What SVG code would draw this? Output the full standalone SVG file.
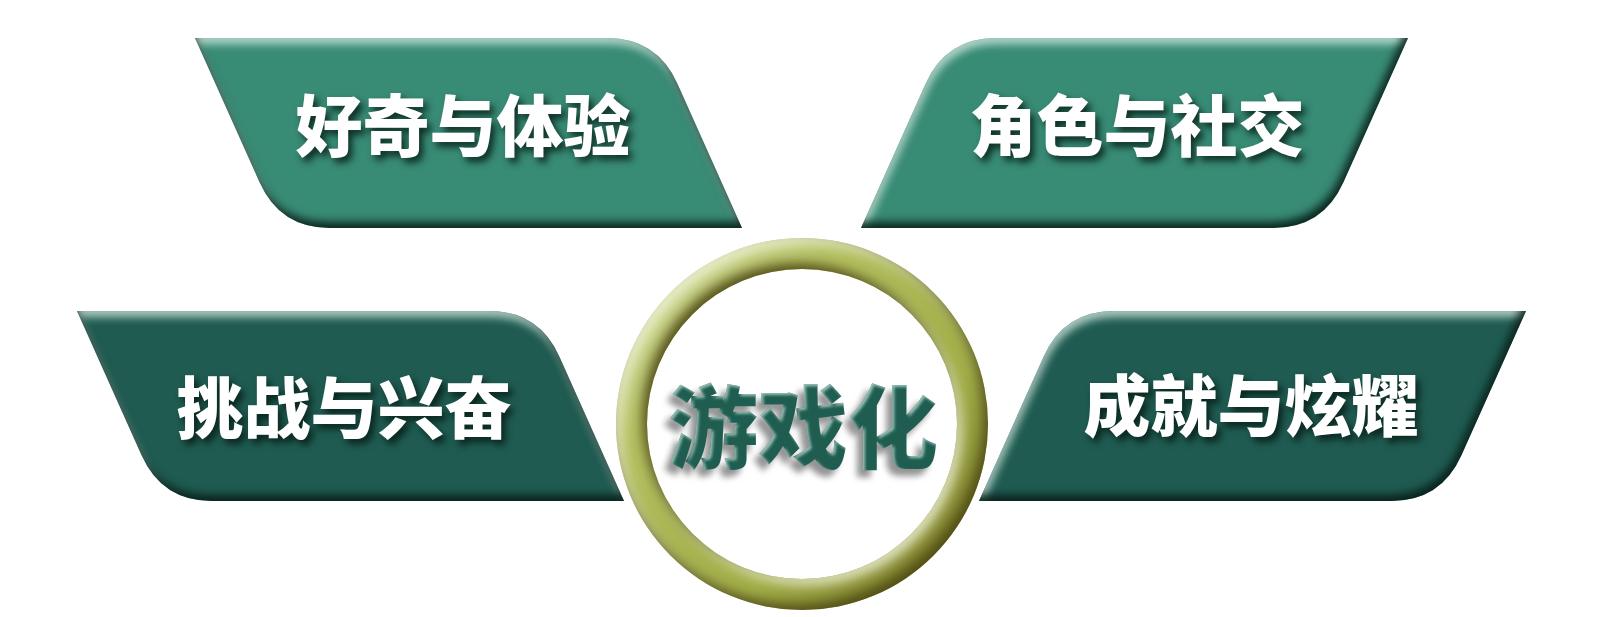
<svg xmlns="http://www.w3.org/2000/svg" width="1612" height="617" viewBox="0 0 1612 617">
  <defs>
    <style>
      .lbl { font-family: "Noto Sans CJK SC", "Noto Sans", sans-serif; font-weight: 900; font-size: 67px; fill: #ffffff; text-anchor: middle; filter: url(#txtShadow); }
      .core { font-family: "Noto Sans CJK SC", "Noto Sans", sans-serif; font-weight: 900; font-size: 90px; fill: #1f5d51; text-anchor: middle; filter: url(#coreShadow); }
      .light { fill: #388b75; filter: url(#bevel); }
      .dark { fill: #1f5b51; filter: url(#bevel); }
    </style>
    <filter id="bevel" x="-5%" y="-10%" width="110%" height="125%" color-interpolation-filters="sRGB">
      <feGaussianBlur in="SourceAlpha" stdDeviation="4" result="blur"/>
      <feOffset in="blur" dx="2" dy="6" result="offDown"/>
      <feComposite in="SourceAlpha" in2="offDown" operator="out" result="topEdge"/>
      <feFlood flood-color="#d6ece4" flood-opacity="0.8"/>
      <feComposite in2="topEdge" operator="in" result="hl"/>
      <feOffset in="blur" dx="-3" dy="-6" result="offUp"/>
      <feComposite in="SourceAlpha" in2="offUp" operator="out" result="botEdge"/>
      <feFlood flood-color="#051c16" flood-opacity="0.9"/>
      <feComposite in2="botEdge" operator="in" result="sh"/>
      <feMerge><feMergeNode in="SourceGraphic"/><feMergeNode in="hl"/><feMergeNode in="sh"/></feMerge>
    </filter>
    <filter id="ringBevel" x="-5%" y="-5%" width="110%" height="110%" color-interpolation-filters="sRGB">
      <feGaussianBlur in="SourceAlpha" stdDeviation="6" result="blur"/>
      <feOffset in="blur" dx="5" dy="6" result="offDown"/>
      <feComposite in="SourceAlpha" in2="offDown" operator="out" result="topEdge"/>
      <feFlood flood-color="#f3f6dc" flood-opacity="0.85"/>
      <feComposite in2="topEdge" operator="in" result="hl"/>
      <feOffset in="blur" dx="-5" dy="-6" result="offUp"/>
      <feComposite in="SourceAlpha" in2="offUp" operator="out" result="botEdge"/>
      <feFlood flood-color="#4a4610" flood-opacity="0.9"/>
      <feComposite in2="botEdge" operator="in" result="sh"/>
      <feMerge><feMergeNode in="SourceGraphic"/><feMergeNode in="hl"/><feMergeNode in="sh"/></feMerge>
    </filter>
    <filter id="txtShadow" x="-10%" y="-20%" width="130%" height="160%" color-interpolation-filters="sRGB">
      <feGaussianBlur in="SourceAlpha" stdDeviation="3.5"/>
      <feOffset dx="4" dy="5" result="o"/>
      <feFlood flood-color="#041812" flood-opacity="0.8"/>
      <feComposite in2="o" operator="in" result="s"/>
      <feMerge><feMergeNode in="s"/><feMergeNode in="SourceGraphic"/></feMerge>
    </filter>
    <filter id="coreShadow" x="-10%" y="-20%" width="130%" height="160%" color-interpolation-filters="sRGB">
      <feGaussianBlur in="SourceAlpha" stdDeviation="3" result="blur"/>
      <feOffset in="blur" dx="-6" dy="7" result="o"/>
      <feFlood flood-color="#6e6e6e" flood-opacity="0.75"/>
      <feComposite in2="o" operator="in" result="s"/>
      <feGaussianBlur in="SourceAlpha" stdDeviation="1.5" result="b2"/>
      <feOffset in="b2" dx="2" dy="2" result="o2"/>
      <feComposite in="SourceAlpha" in2="o2" operator="out" result="edge"/>
      <feFlood flood-color="#b9dcd2" flood-opacity="0.8"/>
      <feComposite in2="edge" operator="in" result="hl"/>
      <feMerge><feMergeNode in="s"/><feMergeNode in="SourceGraphic"/><feMergeNode in="hl"/></feMerge>
    </filter>
    <linearGradient id="ringGrad" x1="0" y1="0" x2="1" y2="1">
      <stop offset="0" stop-color="#dfe6b4"/>
      <stop offset="0.3" stop-color="#b4c062"/>
      <stop offset="0.65" stop-color="#a2ae48"/>
      <stop offset="1" stop-color="#6c6a20"/>
    </linearGradient>
  </defs>
  <rect width="1612" height="617" fill="#ffffff"/>

  <g id="connectors"/>

  <g id="node-curiosity">
    <path class="light" d="M195,38 H607 Q657,38 677.4,83.7 L742,228 H330 Q280,228 259.6,182.3 Z"/>
    <text class="lbl" x="463" y="151">好奇与体验</text>
  </g>

  <g id="node-social">
    <path class="light" d="M1408,38 H996 Q946,38 925.6,83.7 L861,228 H1273 Q1323,228 1343.4,182.3 Z"/>
    <text class="lbl" x="1137" y="151">角色与社交</text>
  </g>

  <g id="node-challenge">
    <path class="dark" d="M77,311 H489 Q539,311 559.4,356.7 L624,501 H212 Q162,501 141.6,455.3 Z"/>
    <text class="lbl" x="344" y="433">挑战与兴奋</text>
  </g>

  <g id="node-achievement">
    <path class="dark" d="M1526,311 H1114 Q1064,311 1043.6,356.7 L979,501 H1391 Q1441,501 1461.4,455.3 Z"/>
    <text class="lbl" x="1251" y="431">成就与炫耀</text>
  </g>

  <g id="node-gamification">
    <path fill="url(#ringGrad)" fill-rule="evenodd" filter="url(#ringBevel)" d="M616,424 a186,186 0 1,0 372,0 a186,186 0 1,0 -372,0 Z M647,424 a155,155 0 1,0 310,0 a155,155 0 1,0 -310,0 Z"/>
    <text class="core" x="803" y="461">游戏化</text>
  </g>
</svg>
